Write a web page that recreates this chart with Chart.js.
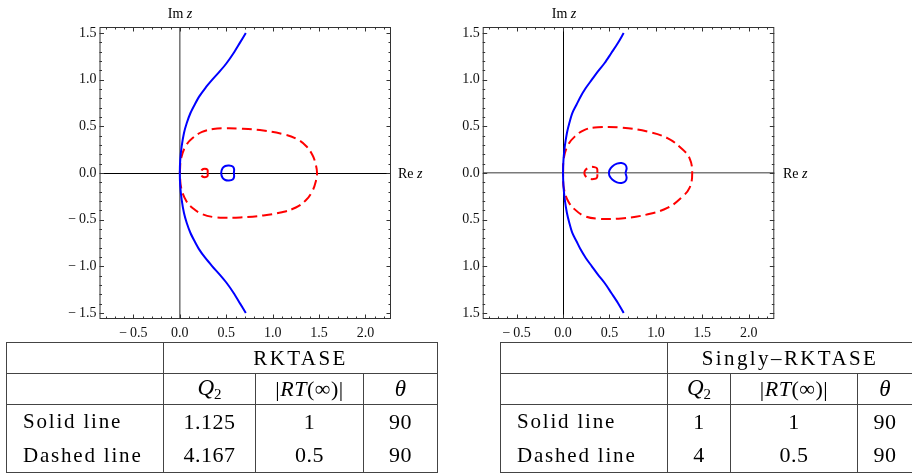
<!DOCTYPE html>
<html>
<head>
<meta charset="utf-8">
<script src="https://cdn.jsdelivr.net/npm/chart.js@4.4.1/dist/chart.umd.min.js"></script>
<style>
body { margin:0; width:912px; height:473px; background:#fff; position:relative; overflow:hidden; font-family:'Liberation Serif', serif; color:#000; }
canvas { position:absolute; top:0; }
.lbl { position:absolute; font-size:14px; white-space:nowrap; transform:translate(-50%,-50%); }
.lbl.re { transform:translate(0,-50%); }
table { position:absolute; top:342px; border-collapse:collapse; table-layout:fixed; font-size:21px; }
td { border:1px solid #444; padding:0; text-align:center; vertical-align:middle; }
td.txt { text-align:left; padding-left:16px; letter-spacing:1.8px; }
td.head { letter-spacing:2.4px; }
td.num { font-size:22px; letter-spacing:0.5px; }
tr.r1 { height:31px; }
tr.r2 { height:31px; }
tr.r3 { height:34px; }
tr.r3 td { border-bottom:hidden; }
tr.r4 { height:34px; }
i.m { font-size:23px; }
sub { font-size:15px; vertical-align:-4px; font-style:normal; }
</style>
</head>
<body>
<canvas id="leftChart" width="450" height="345" style="left:0"></canvas>
<canvas id="rightChart" width="452" height="345" style="left:460px"></canvas>

<div class="lbl" style="left:180px;top:14px">Im <i>z</i></div>
<div class="lbl re" style="left:398px;top:174px">Re <i>z</i></div>
<div class="lbl" style="left:564px;top:14px">Im <i>z</i></div>
<div class="lbl re" style="left:783px;top:174px">Re <i>z</i></div>

<table style="left:6px;width:431px">
  <colgroup><col style="width:157px"><col style="width:92px"><col style="width:108px"><col style="width:74px"></colgroup>
  <tr class="r1"><td></td><td colspan="3" class="head">RKTASE</td></tr>
  <tr class="r2"><td></td><td><i class="m">Q</i><sub>2</sub></td><td class="num">|<i>RT</i>(∞)|</td><td><i class="m">θ</i></td></tr>
  <tr class="r3"><td class="txt">Solid line</td><td class="num">1.125</td><td class="num">1</td><td class="num">90</td></tr>
  <tr class="r4"><td class="txt">Dashed line</td><td class="num">4.167</td><td class="num">0.5</td><td class="num">90</td></tr>
</table>

<table style="left:500px;width:412px">
  <colgroup><col style="width:167px"><col style="width:63px"><col style="width:127px"><col style="width:55px"></colgroup>
  <tr class="r1"><td></td><td colspan="3" class="head">Singly–RKTASE</td></tr>
  <tr class="r2"><td></td><td><i class="m">Q</i><sub>2</sub></td><td class="num">|<i>RT</i>(∞)|</td><td><i class="m">θ</i></td></tr>
  <tr class="r3"><td class="txt">Solid line</td><td class="num">1</td><td class="num">1</td><td class="num">90</td></tr>
  <tr class="r4"><td class="txt">Dashed line</td><td class="num">4</td><td class="num">0.5</td><td class="num">90</td></tr>
</table>

<script>
// axes
const xTicks = [-0.5, 0, 0.5, 1, 1.5, 2];
const yTicks = [-1.5, -1, -0.5, 0, 0.5, 1, 1.5];

// RKTASE (left)
const leftSolidX = [0.711, 0.65, 0.58, 0.505, 0.43, 0.35, 0.275, 0.21, 0.16, 0.115, 0.075, 0.045, 0.02, 0.005, 0, 0.005, 0.02, 0.045, 0.075, 0.115, 0.16, 0.21, 0.275, 0.35, 0.43, 0.505, 0.58, 0.65, 0.711];
const leftSolidY = [1.5, 1.4, 1.286, 1.179, 1.089, 1.0, 0.911, 0.821, 0.732, 0.643, 0.536, 0.429, 0.285, 0.143, 0, -0.143, -0.285, -0.429, -0.536, -0.643, -0.732, -0.821, -0.911, -1.0, -1.089, -1.179, -1.286, -1.4, -1.5];
const leftDashX = [0, 0.015, 0.07, 0.145, 0.24, 0.36, 0.5, 0.65, 0.9, 1.1, 1.25, 1.36, 1.43, 1.465, 1.478, 1.465, 1.43, 1.36, 1.25, 1.1, 0.9, 0.65, 0.5, 0.36, 0.24, 0.145, 0.07, 0.015, 0];
const leftDashY = [0, 0.16, 0.3, 0.38, 0.44, 0.472, 0.48, 0.476, 0.455, 0.42, 0.37, 0.29, 0.19, 0.09, 0, -0.09, -0.19, -0.29, -0.37, -0.42, -0.455, -0.476, -0.48, -0.472, -0.44, -0.38, -0.3, -0.16, 0];
const leftLoopX = [0.582, 0.585, 0.57, 0.53, 0.49, 0.46, 0.446, 0.46, 0.49, 0.53, 0.57, 0.585, 0.582];
const leftLoopY = [0, 0.04, 0.07, 0.08, 0.075, 0.05, 0, -0.05, -0.075, -0.08, -0.07, -0.04, 0];
const leftSmallX = [0.3, 0.298, 0.27, 0.24, 0.228, 0.24, 0.27, 0.298, 0.3];
const leftSmallY = [0, 0.035, 0.045, 0.035, 0, -0.035, -0.045, -0.035, 0];

// Singly-RKTASE (right)
const rightSolidX = [0.653, 0.591, 0.52, 0.448, 0.376, 0.31, 0.245, 0.19, 0.145, 0.1, 0.068, 0.042, 0.019, 0.005, 0, 0.005, 0.019, 0.042, 0.068, 0.1, 0.145, 0.19, 0.245, 0.31, 0.376, 0.448, 0.52, 0.591, 0.653];
const rightSolidY = [1.5, 1.393, 1.286, 1.179, 1.089, 1.0, 0.911, 0.821, 0.732, 0.643, 0.536, 0.429, 0.285, 0.143, 0, -0.143, -0.285, -0.429, -0.536, -0.643, -0.732, -0.821, -0.911, -1.0, -1.089, -1.179, -1.286, -1.393, -1.5];
const rightDashX = [0, 0.008, 0.054, 0.126, 0.233, 0.376, 0.628, 0.914, 1.129, 1.273, 1.362, 1.391, 1.362, 1.273, 1.129, 0.914, 0.628, 0.376, 0.233, 0.126, 0.054, 0.008, 0];
const rightDashY = [0, 0.16, 0.3, 0.39, 0.463, 0.49, 0.487, 0.443, 0.372, 0.265, 0.16, 0, -0.16, -0.265, -0.372, -0.443, -0.487, -0.49, -0.463, -0.39, -0.3, -0.16, 0];
const rightLoopX = [0.672, 0.685, 0.67, 0.63, 0.58, 0.53, 0.5, 0.495, 0.5, 0.53, 0.58, 0.63, 0.67, 0.685, 0.672];
const rightLoopY = [0, 0.05, 0.09, 0.107, 0.1, 0.07, 0.03, 0, -0.03, -0.07, -0.1, -0.107, -0.09, -0.05, 0];
const rightSmallX = [0.37, 0.365, 0.33, 0.28, 0.24, 0.23, 0.24, 0.28, 0.33, 0.365, 0.37];
const rightSmallY = [0, 0.05, 0.065, 0.06, 0.03, 0, -0.03, -0.06, -0.065, -0.05, 0];

const BLUE = '#0000ff';
const RED = '#ff0000';

function pts(xs, ys) {
    return xs.map((x, i) => ({ x: x, y: ys[i] }));
}

function solid(xs, ys) {
    return { data: pts(xs, ys), showLine: true, borderColor: BLUE, borderWidth: 2, tension: 0.3, pointRadius: 0, fill: false };
}

function dashed(xs, ys) {
    return { data: pts(xs, ys), showLine: true, borderColor: RED, borderWidth: 2, borderDash: [10, 5], tension: 0.4, pointRadius: 0, fill: false };
}

function fmt(v) {
    return (v < 0 ? '\u2212\u2009' : '') + Math.abs(v).toFixed(1);
}

// frame with inward ticks on all four sides
const frame = {
    id: 'frame',
    afterDatasetsDraw(chart) {
        const { ctx, chartArea: a, scales: { x, y } } = chart;
        ctx.save();
        ctx.strokeStyle = '#333';
        ctx.lineWidth = 1;
        ctx.strokeRect(a.left + 0.5, a.top + 0.5, a.width - 1, a.height - 1);
        ctx.beginPath();
        for (let i = -9; i <= 23; i++) {
            const v = i / 10;
            if (v < x.min || v > x.max) continue;
            const px = Math.round(x.getPixelForValue(v)) + 0.5;
            const len = i % 5 === 0 ? 4.5 : 2.5;
            ctx.moveTo(px, a.bottom); ctx.lineTo(px, a.bottom - len);
            ctx.moveTo(px, a.top); ctx.lineTo(px, a.top + len);
        }
        for (let i = -15; i <= 15; i++) {
            const v = i / 10;
            const py = Math.round(y.getPixelForValue(v)) + 0.5;
            const len = i % 5 === 0 ? 4.5 : 2.5;
            ctx.moveTo(a.left, py); ctx.lineTo(a.left + len, py);
            ctx.moveTo(a.right, py); ctx.lineTo(a.right - len, py);
        }
        ctx.stroke();
        ctx.restore();
    }
};

function makeChart(id, datasets, yWidth, padRight, vColor, vWidth, hColor, hWidth) {
    const tickFont = { family: 'Liberation Serif', size: 14 };
    return new Chart(document.getElementById(id), {
        type: 'scatter',
        data: { datasets: datasets },
        options: {
            responsive: false,
            animation: false,
            devicePixelRatio: 1,
            layout: { padding: { top: 27, right: padRight, left: 0, bottom: 0 } },
            plugins: { legend: { display: false }, tooltip: { enabled: false } },
            scales: {
                x: {
                    type: 'linear', min: -0.865, max: 2.275,
                    afterBuildTicks: s => { s.ticks = xTicks.map(v => ({ value: v })); },
                    afterFit: s => { s.height = 26; },
                    border: { display: false },
                    grid: {
                        drawTicks: false,
                        color: c => (c.tick && c.tick.value === 0 ? vColor : 'rgba(0,0,0,0)'),
                        lineWidth: c => (c.tick && c.tick.value === 0 ? vWidth : 0)
                    },
                    ticks: { padding: 6, font: tickFont, color: '#111', callback: fmt, maxRotation: 0, autoSkip: false }
                },
                y: {
                    type: 'linear', min: -1.565, max: 1.565,
                    afterBuildTicks: s => { s.ticks = yTicks.map(v => ({ value: v })); },
                    afterFit: s => { s.width = yWidth; },
                    border: { display: false },
                    grid: {
                        drawTicks: false,
                        color: c => (c.tick && c.tick.value === 0 ? hColor : 'rgba(0,0,0,0)'),
                        lineWidth: c => (c.tick && c.tick.value === 0 ? hWidth : 0)
                    },
                    ticks: { padding: 3, font: tickFont, color: '#111', callback: fmt, autoSkip: false }
                }
            }
        },
        plugins: [frame]
    });
}

makeChart('leftChart', [
    solid(leftSolidX, leftSolidY),
    dashed(leftDashX, leftDashY),
    solid(leftLoopX, leftLoopY),
    dashed(leftSmallX, leftSmallY)
], 99.5, 59, '#7a7a7a', 1.6, '#000', 1);

makeChart('rightChart', [
    solid(rightSolidX, rightSolidY),
    dashed(rightDashX, rightDashY),
    solid(rightLoopX, rightLoopY),
    dashed(rightSmallX, rightSmallY)
], 22.7, 137.7, '#000', 1, '#7a7a7a', 1.6);
</script>
</body>
</html>
